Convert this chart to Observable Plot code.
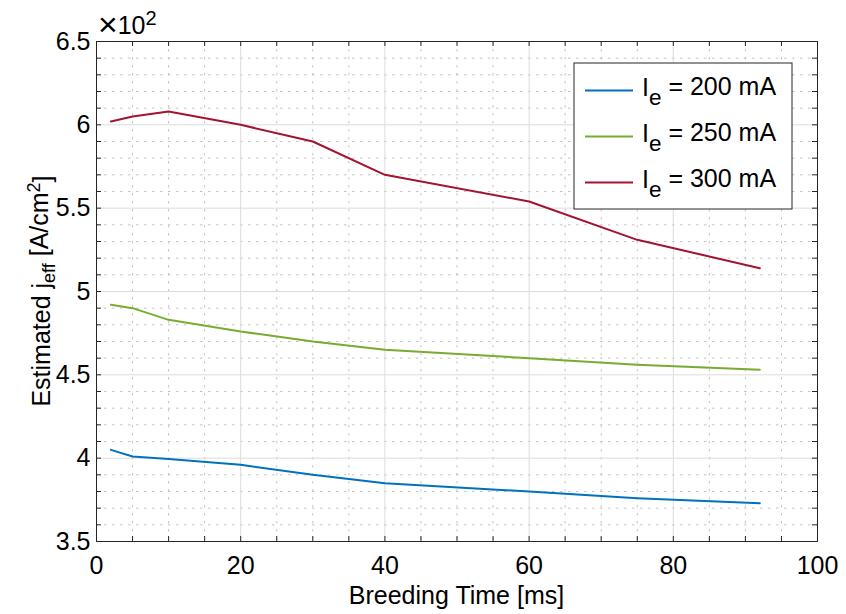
<!DOCTYPE html>
<html><head><meta charset="utf-8">
<script src="https://cdn.jsdelivr.net/npm/d3@7"></script>
<script src="https://cdn.jsdelivr.net/npm/@observablehq/plot@0.6"></script>
<style>
body{margin:0;background:#fff}
svg{font-family:"Liberation Sans",Arial,sans-serif}
</style>
</head><body><div id="chart"></div>
<script>
// Breeding time [ms]
const time = [2, 5, 10, 20, 30, 40, 60, 75, 92];
// Estimated j_eff [A/cm^2] for each electron current
const j200 = [405, 401, 399.5, 396, 390, 385, 380, 376, 373];
const j250 = [492, 490, 483, 476, 470, 465, 460, 456, 453];
const j300 = [602, 605, 608, 600, 590, 570, 554, 531, 514];
const currents = ["200", "250", "300"];
const colors = ["#0072BD", "#77AC30", "#A2142F"];
const xTicks = [0, 20, 40, 60, 80, 100];
const yTicks = [350, 400, 450, 500, 550, 600, 650];
const xMinor = d3.range(0, 101, 5);
const yMinor = d3.range(350, 651, 10);

const W = 846, H = 614, mL = 96, mR = 29, mT = 41, mB = 73;
const pw = W - mL - mR, ph = H - mT - mB, tl = 5;
const FS = 25;

const seriesVals = [j200, j250, j300];
const rows = [];
currents.forEach((c, i) => time.forEach((t, k) => rows.push({t, v: seriesVals[i][k], s: c})));

const xMinorOnly = xMinor.filter(d => !xTicks.includes(d));
const yMinorOnly = yMinor.filter(d => !yTicks.includes(d));

const plot = Plot.plot({
  width: W, height: H,
  marginLeft: mL, marginRight: mR, marginTop: mT, marginBottom: mB,
  style: {fontSize: FS + "px", fontFamily: '"Liberation Sans", Arial, sans-serif', color: "#000", background: "#fff"},
  x: {domain: [0, 100]},
  y: {domain: [350, 650]},
  color: {domain: currents, range: colors},
  marks: [
    Plot.ruleX(xMinorOnly, {x: d => d, stroke: "#c4c4c4", strokeDasharray: "2.5,5.5"}),
    Plot.ruleY(yMinorOnly, {y: d => d, stroke: "#c4c4c4", strokeDasharray: "2.5,5.5"}),
    Plot.ruleX(xTicks, {x: d => d, stroke: "#dcdcdc"}),
    Plot.ruleY(yTicks, {y: d => d, stroke: "#dcdcdc"}),
    Plot.line(rows, {x: "t", y: "v", z: "s", stroke: "s", strokeWidth: 2}),
    Plot.tickX(xMinor, {x: d => d, insetTop: ph - tl, stroke: "#262626"}),
    Plot.tickX(xMinor, {x: d => d, insetBottom: ph - tl, stroke: "#262626"}),
    Plot.tickY(yMinor, {y: d => d, insetRight: pw - tl, stroke: "#262626"}),
    Plot.tickY(yMinor, {y: d => d, insetLeft: pw - tl, stroke: "#262626"}),
    Plot.frame({stroke: "#262626"}),
    Plot.axisX(xTicks, {tickSize: 0, tickPadding: 15, label: null, fill: "#000"}),
    Plot.axisY(yTicks, {tickSize: 0, tickPadding: 6, label: null, tickFormat: d => String(d / 100), fill: "#000"})
  ]
});
document.getElementById("chart").appendChild(plot);

const svg = d3.select(plot);
const g = svg.append("g").attr("font-size", FS).attr("fill", "#000");

// x label
g.append("text").attr("x", mL + pw / 2).attr("y", 604).attr("text-anchor", "middle").text("Breeding Time [ms]");

// y label
const yl = g.append("text").attr("transform", `translate(50,${mT + ph / 2}) rotate(-90)`).attr("text-anchor", "middle");
yl.append("tspan").text("Estimated j");
yl.append("tspan").attr("dy", "0.3em").attr("font-size", FS * 0.72).text("eff");
yl.append("tspan").attr("dy", "-0.3em").text(" [A/cm");
yl.append("tspan").attr("dy", "-0.45em").attr("font-size", FS * 0.72).text("2");
yl.append("tspan").attr("dy", "0.45em").text("]");

// exponent
const ex = g.append("text").attr("x", 98).attr("y", 34).attr("text-anchor", "start");
ex.append("tspan").attr("font-size", FS * 1.35).attr("dy", "0.05em").text("\u00d7");
ex.append("tspan").attr("dy", "-0.05em").text("10");
ex.append("tspan").attr("dy", "-0.45em").attr("font-size", FS * 0.8).text("2");

// legend
const lg = svg.append("g");
lg.append("rect").attr("x", 574).attr("y", 63).attr("width", 218).attr("height", 146)
  .attr("fill", "#fff").attr("stroke", "#262626");
currents.forEach((c, i) => {
  const y = 90.5 + i * 46;
  lg.append("line").attr("x1", 585).attr("x2", 633).attr("y1", y).attr("y2", y)
    .attr("stroke", colors[i]).attr("stroke-width", 2);
  const t = lg.append("text").attr("x", 642).attr("y", y + 5.5).attr("font-size", FS)
    .attr("fill", "#000").attr("text-anchor", "start");
  t.append("tspan").text("I");
  t.append("tspan").attr("dy", "0.4em").attr("font-size", FS * 0.9).text("e");
  t.append("tspan").attr("dy", "-0.4em").text(` = ${c} mA`);
});
</script>
</body></html>
